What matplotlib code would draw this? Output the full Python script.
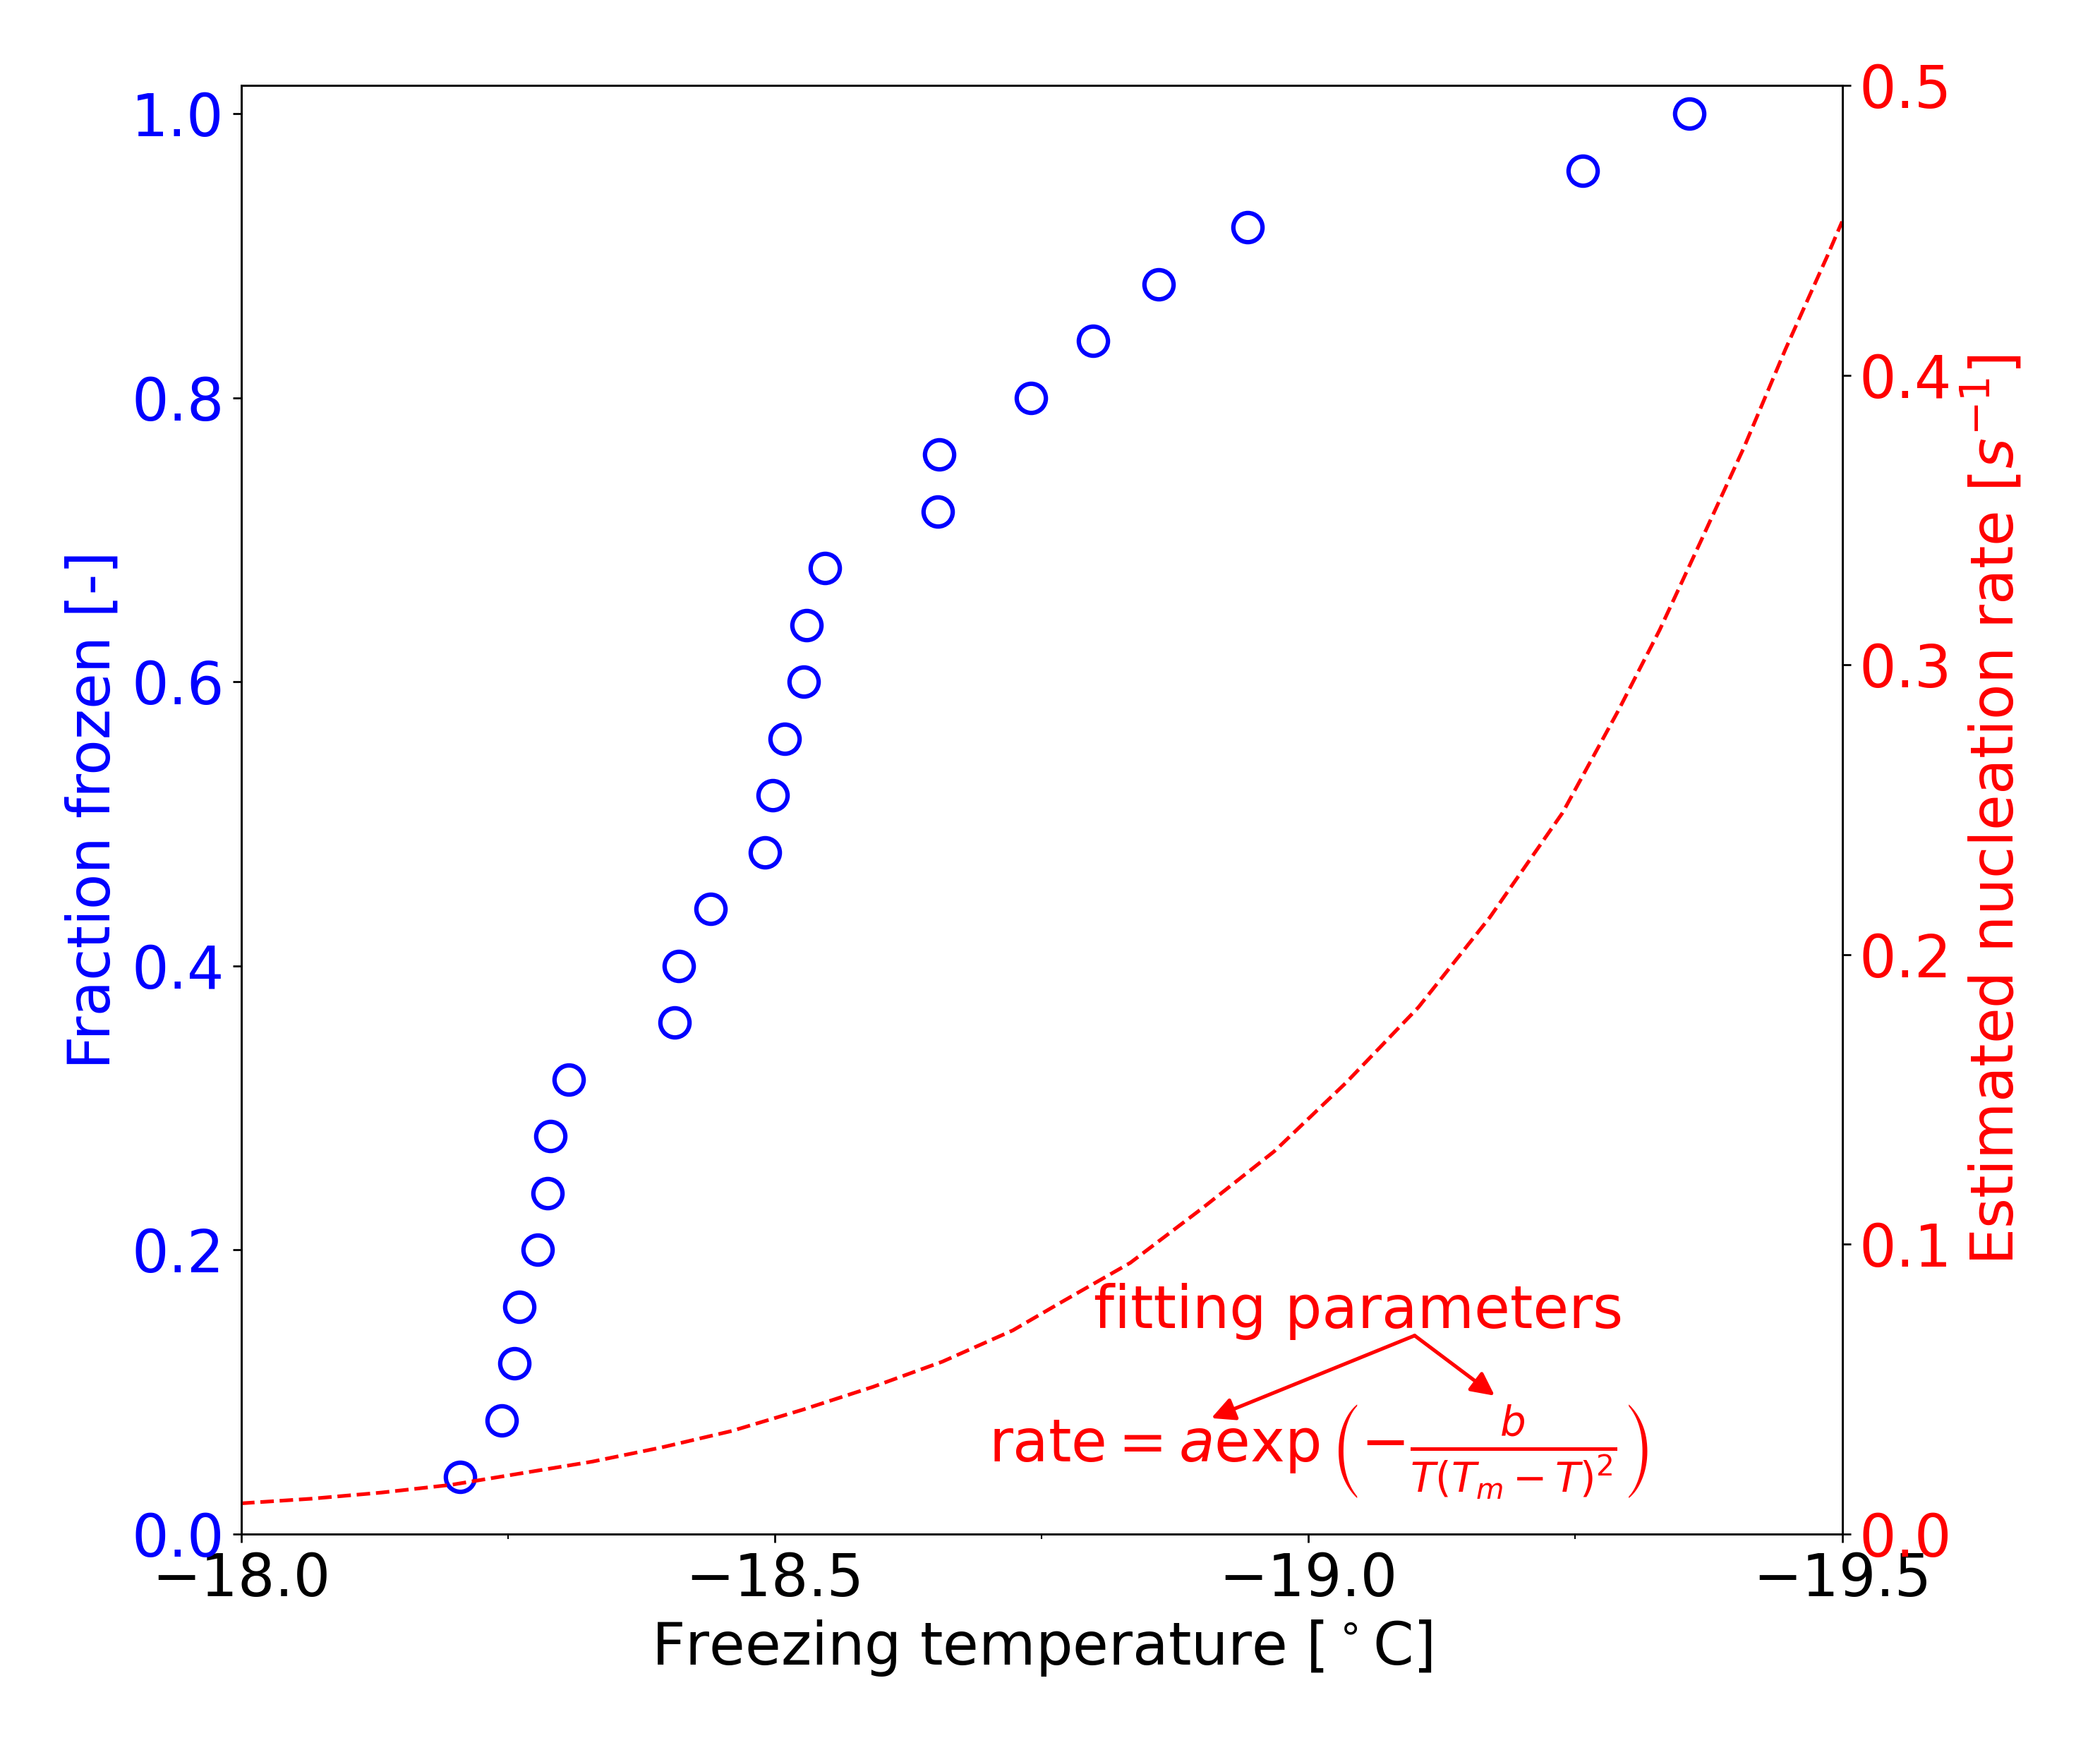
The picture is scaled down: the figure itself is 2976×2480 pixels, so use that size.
import numpy as np
import matplotlib
matplotlib.use('Agg')
import matplotlib.pyplot as plt
from matplotlib.ticker import MultipleLocator

# measured freezing temperatures (deg C) and cumulative fraction frozen
freeze_temp = [-18.205, -18.244, -18.256, -18.261, -18.278, -18.287, -18.290, -18.307,
               -18.406, -18.410, -18.440, -18.491, -18.498, -18.509, -18.527, -18.530,
               -18.547, -18.653, -18.654, -18.740, -18.798, -18.860, -18.943, -19.257,
               -19.357]
frac_frozen = [0.04, 0.08, 0.12, 0.16, 0.20, 0.24, 0.28, 0.32,
               0.36, 0.40, 0.44, 0.48, 0.52, 0.56, 0.60, 0.64,
               0.68, 0.72, 0.76, 0.80, 0.84, 0.88, 0.92, 0.96,
               1.00]

# fitted nucleation rate curve (s^-1)
curve_temp = [-18.0, -18.066, -18.131, -18.197, -18.263, -18.329, -18.394, -18.460,
              -18.526, -18.592, -18.657, -18.723, -18.766, -18.833, -18.900, -18.968,
              -19.035, -19.103, -19.170, -19.238, -19.290, -19.329, -19.368, -19.408,
              -19.447, -19.486, -19.5]
curve_rate = [0.0106, 0.0122, 0.0143, 0.0170, 0.0210, 0.0250, 0.0299, 0.0356,
              0.0429, 0.0508, 0.0595, 0.0703, 0.0795, 0.0936, 0.1123, 0.1321,
              0.1557, 0.1818, 0.2129, 0.2489, 0.2840, 0.3120, 0.3430, 0.3750,
              0.4090, 0.4410, 0.4530]

fs = 24

fig, ax1 = plt.subplots(figsize=(12, 10), dpi=248)
fig.subplots_adjust(left=0.1148, right=0.8772, bottom=0.1234, top=0.9512)

ax1.plot(freeze_temp, frac_frozen, 'o', mfc='none', mec='blue', ms=12, mew=1.8)
ax1.set_xlim(-18.0, -19.5)
ax1.set_ylim(0, 1.02)
ax1.set_xticks([-18.0, -18.5, -19.0, -19.5])
ax1.xaxis.set_minor_locator(MultipleLocator(0.25))
ax1.set_yticks([0.0, 0.2, 0.4, 0.6, 0.8, 1.0])
ax1.tick_params(axis='x', labelsize=fs)
ax1.tick_params(axis='y', labelsize=fs, labelcolor='blue')
ax1.set_xlabel(r'Freezing temperature [$^\circ$C]', fontsize=fs)
ax1.set_ylabel('Fraction frozen [-]', fontsize=fs, color='blue')

ax2 = ax1.twinx()
ax2.plot(curve_temp, curve_rate, 'r--', lw=1.5)
ax2.set_ylim(0, 0.5)
ax2.set_yticks([0.0, 0.1, 0.2, 0.3, 0.4, 0.5])
ax2.tick_params(axis='y', labelsize=fs, labelcolor='red')
ax2.set_ylabel(r'Estimated nucleation rate [$s^{-1}$]', fontsize=fs, color='red')

ax2.text(0.698, 0.142, 'fitting parameters', transform=ax2.transAxes,
         ha='center', va='baseline', fontsize=fs, color='red')
ax2.text(0.673, 0.05, r'$\mathrm{rate} = a\exp\left(-\frac{b}{T(T_m-T)^2}\right)$',
         transform=ax2.transAxes, ha='center', va='baseline', fontsize=fs, color='red')
arrow = dict(arrowstyle='-|>', color='red', lw=1.5, mutation_scale=20, shrinkA=0, shrinkB=0)
ax2.annotate('', xy=(0.606, 0.080), xytext=(0.733, 0.137),
             xycoords='axes fraction', textcoords='axes fraction', arrowprops=arrow)
ax2.annotate('', xy=(0.783, 0.0955), xytext=(0.733, 0.137),
             xycoords='axes fraction', textcoords='axes fraction', arrowprops=arrow)

fig.savefig('out.png', dpi=248)
